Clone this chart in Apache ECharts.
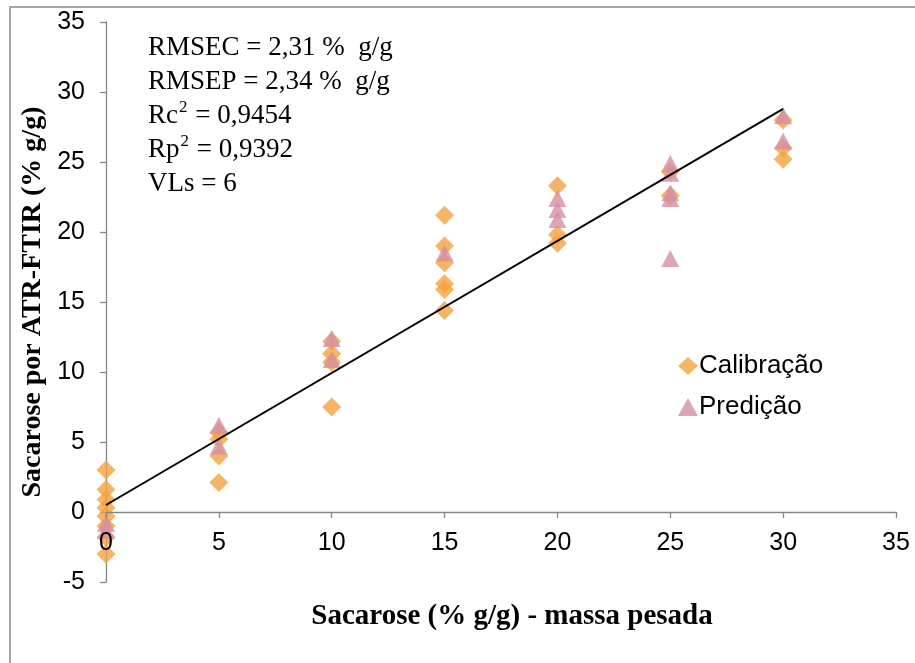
<!DOCTYPE html>
<html><head><meta charset="utf-8">
<script src="https://cdn.jsdelivr.net/npm/echarts@6/dist/echarts.min.js"></script>
<style>html,body{margin:0;padding:0;background:#fff}#c{width:915px;height:663px}</style>
</head><body><div id="c"></div>
<script>
// Calibração (x, y)
const calX = [0,0,0,0,0,0,0,0, 5,5,5,5, 10,10,10,10, 15,15,15,15,15,15, 20,20,20, 25,25, 30,30,30];
const calY = [3.0,1.6,0.9,0.3,-0.3,-1.0,-1.8,-3.0, 5.7,5.2,4.0,2.1, 12.2,11.3,10.7,7.5, 21.2,19.0,17.8,16.3,15.9,14.4, 23.3,19.8,19.2, 24.3,22.6, 28.0,26.0,25.2];
// Predição (x, y)
const preX = [0,0, 5,5, 10,10, 15, 20,20,20, 25,25,25,25,25, 30,30];
const preY = [-0.8,-1.3, 6.2,4.7, 12.4,10.9, 18.5, 22.4,21.6,20.9, 24.9,24.2,22.8,22.4,18.1, 28.3,26.5];
// Linha de regressão
const lineX = [0, 30];
const lineY = [0.5, 28.8];
const xTicks = {min:0, max:35, step:5};
const yTicks = {min:-5, max:35, step:5};
const statLines = ['RMSEC = 2,31 %  g/g','RMSEP = 2,34 %  g/g','Rc2 = 0,9454','Rp2 = 0,9392','VLs = 6'];
const xTitle = 'Sacarose (% g/g) - massa pesada';
const yTitle = 'Sacarose por ATR-FTIR (% g/g)';

const zip = (a,b)=>a.map((v,i)=>[v,b[i]]);
const chart = echarts.init(document.getElementById('c'), null, {renderer:'canvas'});
const axisCol = '#868686';
const serif = '"Liberation Serif","Times New Roman",serif';
const sans = '"Liberation Sans",Arial,sans-serif';
function fmtStat(s){
  return s.replace(/^(Rc|Rp)2/, (m,p)=>p+'{sup|2}');
}
// grid 0: full plot area (-5..35); grid 1: same x range, its bottom edge sits at y = 0 of grid 0
const plotTop = 22, plotBottomPx = 582, H = 663;
const zeroPx = plotTop + (yTicks.max - 0) / (yTicks.max - yTicks.min) * (plotBottomPx - plotTop);
chart.setOption({
  animation:false,
  grid:[
    {left:106,right:19,top:plotTop,bottom:H-plotBottomPx,containLabel:false,outerBoundsMode:'none'},
    {left:106,right:19,top:plotTop,bottom:H-zeroPx,containLabel:false,outerBoundsMode:'none'}
  ],
  xAxis:[
    {gridIndex:0,type:'value',min:xTicks.min,max:xTicks.max,interval:xTicks.step,show:false},
    {gridIndex:1,type:'value',min:xTicks.min,max:xTicks.max,interval:xTicks.step,z:10,
      axisLine:{onZero:false,lineStyle:{color:axisCol,width:1.3}},
      axisTick:{show:true,length:6,lineStyle:{color:axisCol,width:1.3}},
      axisLabel:{color:'#000',fontFamily:sans,fontSize:25,margin:19,showMinLabel:true,showMaxLabel:true,hideOverlap:false},
      splitLine:{show:false}}
  ],
  yAxis:[
    {gridIndex:0,type:'value',min:yTicks.min,max:yTicks.max,interval:yTicks.step,
      axisLine:{show:true,onZero:false,lineStyle:{color:axisCol,width:1.3}},
      axisTick:{show:true,length:6,lineStyle:{color:axisCol,width:1.3}},
      axisLabel:{color:'#000',fontFamily:sans,fontSize:25,margin:21,showMinLabel:true,showMaxLabel:true},
      splitLine:{show:false},
      name:yTitle,nameLocation:'middle',nameGap:59,
      nameTextStyle:{fontFamily:serif,fontWeight:'bold',fontSize:28,color:'#000'}},
    {gridIndex:1,type:'value',min:0,max:yTicks.max,show:false}
  ],
  legend:{show:true,orient:'vertical',left:673,top:348,itemGap:15,itemWidth:20,itemHeight:18,
    textStyle:{fontFamily:sans,fontSize:26,color:'#000',padding:[0,0,0,-4]},
    data:[{name:'Calibração',icon:'diamond'},{name:'Predição',icon:'triangle'}]},
  graphic:[
    {type:'rect',shape:{x:10,y:7,width:1000,height:800},style:{fill:'none',stroke:'#a6a6a6',lineWidth:2},z:-10},
    {type:'text',left:148,top:31,style:{
      text: statLines.map(fmtStat).join('\n'),
      font:'27px '+serif, fill:'#000', lineHeight:34,
      rich:{sup:{fontSize:17,fontFamily:serif,verticalAlign:'top',padding:[0,1,12,1],lineHeight:34}}
    }},
    {type:'text',x:512,y:617,style:{text:xTitle,font:'bold 29px '+serif,fill:'#000',align:'center',verticalAlign:'middle'}}
  ],
  series:[
    {name:'Linha',type:'line',xAxisIndex:0,yAxisIndex:0,data:zip(lineX,lineY),symbol:'none',
      lineStyle:{color:'#000',width:2},z:3,silent:true},
    {name:'Calibração',type:'scatter',xAxisIndex:0,yAxisIndex:0,data:zip(calX,calY),symbol:'diamond',symbolSize:[19,19],
      itemStyle:{color:'#F4A340'},z:2},
    {name:'Predição',type:'scatter',xAxisIndex:0,yAxisIndex:0,data:zip(preX,preY),symbol:'triangle',symbolSize:[18,17],
      itemStyle:{color:'#D48FA5'},z:2}
  ]
});
</script></body></html>
